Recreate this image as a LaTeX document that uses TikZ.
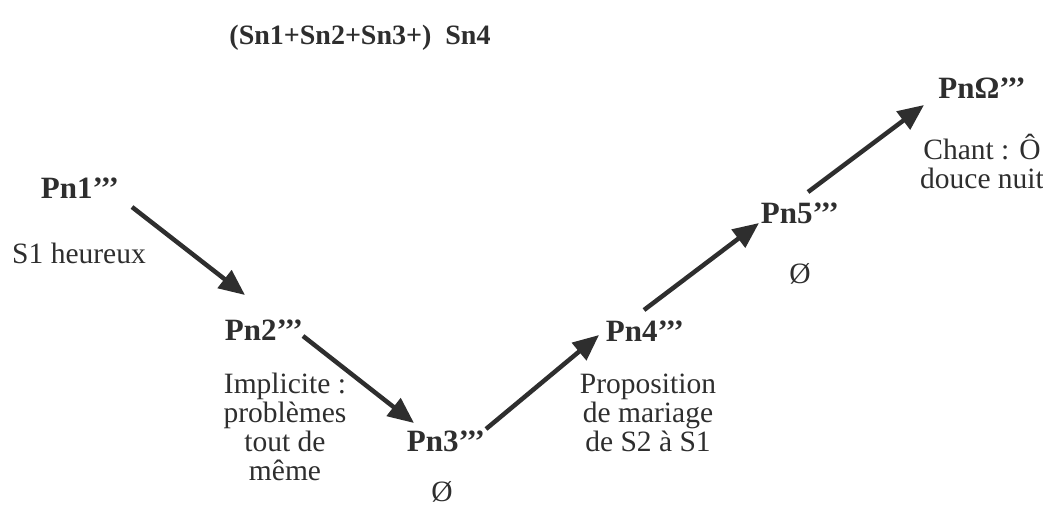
\documentclass[tikz,border=0pt]{standalone}
\usepackage{fontspec}
\setmainfont{Liberation Serif}
\usetikzlibrary{arrows.meta}
\definecolor{ink}{HTML}{2E2E2E}
\begin{document}
\begin{tikzpicture}[x=1pt,y=-1pt,
  every node/.style={text=ink,font=\fontsize{29.5}{29}\selectfont,inner sep=0pt},
  pn/.style={font=\fontsize{31}{30}\selectfont\bfseries},
  txt/.style={align=center},
  arr/.style={draw=ink,line width=4.5pt,-{Triangle[length=26pt,width=22pt]}}]
\useasboundingbox (0,0) rectangle (1043,507);
\node[font=\fontsize{28}{30}\selectfont\bfseries] (title) at (360,38) {(Sn1+Sn2+Sn3+)\ \ Sn4};
\node[pn] (p1) at (80,188) {Pn1’’’};
\node (t1) at (79,253) {S1 heureux};
\node[pn] (p2) at (264,330) {Pn2’’’};
\node[txt] (t2) at (285,427) {Implicite :\\problèmes\\tout de\\même};
\node[pn] (p3) at (446,441) {Pn3’’’};
\node (t3) at (442,492) {Ø};
\node[pn] (p4) at (645,331) {Pn4’’’};
\node[txt] (t4) at (648,413) {Proposition\\de mariage\\de S2 à S1};
\node[pn] (p5) at (800,213) {Pn5’’’};
\node (t5) at (800,274) {Ø};
\node[pn] (p6) at (982,88) {PnΩ’’’};
\node[txt] (t6) at (982,161) {Chant : Ô\\douce nuit};
\coordinate (a1s) at (132,207); \coordinate (a1e) at (245,295);
\coordinate (a2s) at (303,336); \coordinate (a2e) at (414,423);
\coordinate (a3s) at (486,429); \coordinate (a3e) at (599,335);
\coordinate (a4s) at (644,310); \coordinate (a4e) at (759,223);
\coordinate (a5s) at (808,192); \coordinate (a5e) at (924,105);
\draw[arr] (a1s) -- (a1e);
\draw[arr] (a2s) -- (a2e);
\draw[arr] (a3s) -- (a3e);
\draw[arr] (a4s) -- (a4e);
\draw[arr] (a5s) -- (a5e);
\end{tikzpicture}
\end{document}
